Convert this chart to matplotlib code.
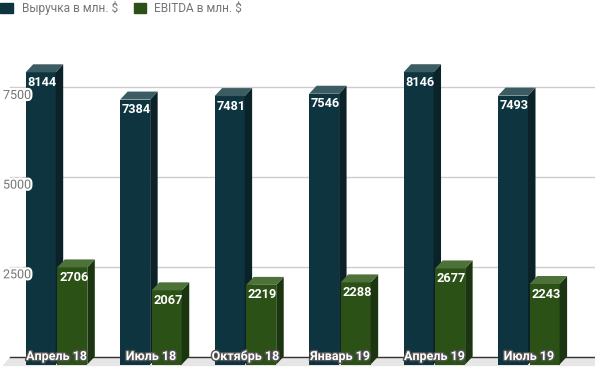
import matplotlib.pyplot as plt
import matplotlib.patheffects as pe
from matplotlib.patches import Rectangle
import numpy as np

plt.rcParams['font.family'] = ['Roboto', 'DejaVu Sans']

categories = ['Апрель 18', 'Июль 18', 'Октябрь 18', 'Январь 19', 'Апрель 19', 'Июль 19']
revenue = [8144, 7384, 7481, 7546, 8146, 7493]
ebitda = [2706, 2067, 2219, 2288, 2677, 2243]
yticks = [2500, 5000, 7500]
series_names = ['Выручка в млн. $', 'EBITDA в млн. $']

# front / side / top colours for each series
blue = ('#0e3440', '#0a2228', '#3b5c63')
green = ('#2b5117', '#1b3510', '#4d7139')

W, H = 595, 367
fig = plt.figure(figsize=(W / 100, H / 100), dpi=100)
ax = fig.add_axes([0, 0, 1, 1])

px_x = 94.46          # pixels per category
px_y = 2500 / 89.7    # data units per pixel
ax.set_xlim(-56.5 / px_x, (W - 56.5) / px_x)
ax.set_ylim(-10.5 * px_y, 356.5 * px_y)
ax.axis('off')

w = 30 / px_x
dx = 7.5 / px_x
dy = 8 * px_y
x = np.arange(len(categories))
x0 = (10 - 56.5) / px_x
xr = (W - 56.5) / px_x

# floor + grid
ax.fill([x0, xr + 1, xr + 1, x0 - dx], [0, 0, -dy, -dy], color='#e6e6e6', zorder=0)
ax.plot([x0, xr + 1], [0, 0], color='#333333', lw=1, zorder=1)
for t in yticks:
    ax.plot([x0, xr + 1], [t, t], color='#cccccc', lw=1, zorder=0.5)
    ax.text(3 / px_x - 56.5 / px_x, t - dy, str(t), ha='left', va='center',
            fontsize=9, color='#757575', zorder=5,
            path_effects=[pe.withStroke(linewidth=3, foreground='white')])


def bars3d(centers, vals, cols):
    front, side, top = cols
    ax.bar(centers, vals, width=w, bottom=-dy, color=front, zorder=3, linewidth=0)
    for c, v in zip(centers, vals):
        l, r = c - w / 2, c + w / 2
        ax.fill([r, r + dx, r + dx, r], [-dy, 0, v, v - dy], color=side, zorder=3, lw=0)
        ax.fill([l, r, r + dx, l + dx], [v - dy, v - dy, v, v], color=top, zorder=3, lw=0)
        ax.text(l + 1.7 / px_x, v - dy - 10 * px_y, str(v), ha='left', va='center',
                fontsize=9.2, fontweight='bold', color='white', zorder=6)


off = 15.8 / px_x
bars3d(x - off, revenue, blue)
bars3d(x + off, ebitda, green)

for xi, lab in zip(x, categories):
    ax.text(xi, 0, lab, ha='center', va='center', fontsize=9, fontweight='bold',
            color='white', zorder=7,
            path_effects=[pe.withStroke(linewidth=2, foreground='#555555')])

# legend
for lx, tx, col, name in [(0, 21.5, blue[0], series_names[0]), (133.5, 154.5, green[0], series_names[1])]:
    fig.add_artist(Rectangle((lx / W, 1 - 13.3 / H), 12.5 / W, 10 / H,
                             transform=fig.transFigure, color=col))
    fig.text(tx / W, 1 - 8 / H, name, ha='left', va='center', fontsize=8.6, color='#757575')

fig.savefig('out.png', dpi=100)
